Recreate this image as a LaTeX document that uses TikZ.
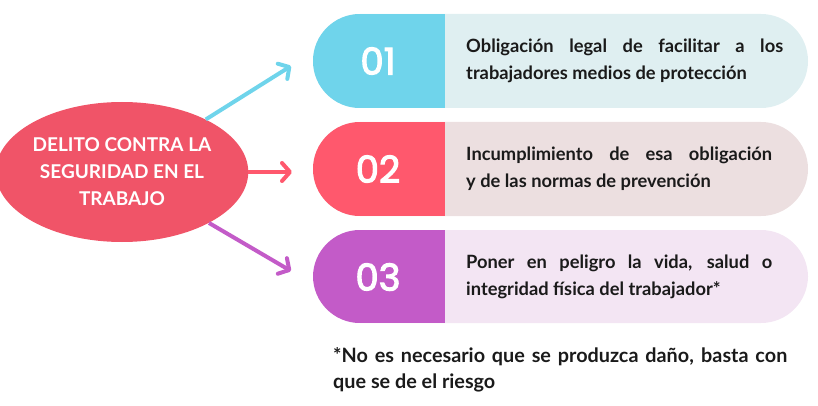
\documentclass[tikz,border=0pt]{standalone}
\usepackage{fontspec}
\setmainfont{Lato}
\newfontfamily\numfont[FakeBold=3]{Poppins}
\usetikzlibrary{shapes.geometric,arrows.meta}
\definecolor{cyanA}{HTML}{6FD4EB}
\definecolor{cyanL}{HTML}{DFEFF1}
\definecolor{redA}{HTML}{FF586D}
\definecolor{redL}{HTML}{ECDFE0}
\definecolor{purA}{HTML}{C35BC8}
\definecolor{purL}{HTML}{F3E5F3}
\definecolor{ellC}{HTML}{F05468}
\definecolor{txt}{HTML}{1A1A1A}
\tikzset{
  conn/.style={line width=4pt,-{Straight Barb[round,length=8pt,width=18pt]}},
  numtxt/.style={text=white,font=\numfont\fontsize{37}{37}\selectfont,inner sep=0pt},
  bodytxt/.style={text=txt,font=\fontsize{18.3}{27}\selectfont\bfseries,align=left,anchor=west,inner sep=0pt},
  foottxt/.style={text=txt,font=\fontsize{19.8}{26}\selectfont\bfseries,align=left,anchor=west,inner sep=0pt},
}
\newcommand{\mypill}[4]{%
  \fill[#2,rounded corners=47pt] (313,#3) rectangle (808,#4);
  \begin{scope}
    \clip[rounded corners=47pt] (313,#3) rectangle (808,#4);
    \fill[#1] (300,#3) rectangle (445,#4);
  \end{scope}}
\begin{document}
\begin{tikzpicture}[x=1pt,y=-1pt]
\useasboundingbox (0,0) rectangle (818,406);
\mypill{cyanA}{cyanL}{14}{108}
\mypill{redA}{redL}{122}{216}
\mypill{purA}{purL}{230}{323}

\node[numtxt] (n1) at (378,61) {01};
\node[numtxt] (n2) at (378,169) {02};
\node[numtxt] (n3) at (378,277) {03};

\node[bodytxt] (t1) at (466,61) {\makebox[317pt][s]{Obligación legal de facilitar a los}\\trabajadores medios de protección};
\node[bodytxt] (t2) at (466,169) {\makebox[306pt][s]{Incumplimiento de esa obligación}\\y de las normas de prevención};
\node[bodytxt] (t3) at (466,277) {\makebox[306pt][s]{Poner en peligro la vida, salud o}\\integridad física del trabajador*};

\node[foottxt] (fn) at (333,370) {\makebox[454pt][s]{*No es necesario que se produzca daño, basta con}\\que se de el riesgo};

\node[ellipse,fill=ellC,minimum width=222pt,minimum height=140pt,inner sep=0pt,
  text=white,align=center,font=\fontsize{19}{27}\selectfont\bfseries] (ell) at (122,172)
  {DELITO CONTRA LA\\SEGURIDAD EN EL\\TRABAJO};

\coordinate (c1) at (291,66);
\coordinate (c2) at (292,172);
\coordinate (c3) at (291,271);
\draw[conn,cyanA] (ell) -- (c1);
\draw[conn,redA] (ell) -- (c2);
\draw[conn,purA] (ell) -- (c3);
\end{tikzpicture}
\end{document}
